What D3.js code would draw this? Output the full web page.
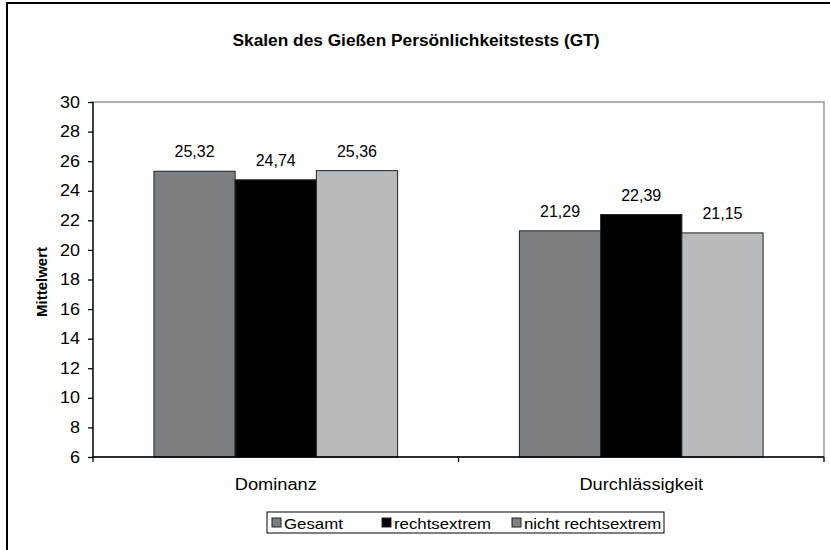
<!DOCTYPE html>
<html>
<head>
<meta charset="utf-8">
<script src="https://cdn.jsdelivr.net/npm/d3@7/dist/d3.min.js"></script>
<style>
  html, body { margin: 0; padding: 0; background: #fff; }
  svg { display: block; font-family: "Liberation Sans", Arial, sans-serif; }
</style>
</head>
<body>
<svg id="chart" width="830" height="550"></svg>
<script>
// Scales of the Gießen personality test, mean scores per group
const categories = ["Dominanz", "Durchlässigkeit"];
const seriesNames = ["Gesamt", "rechtsextrem", "nicht rechtsextrem"];
const gesamt = [25.32, 21.29];
const rechtsextrem = [24.74, 22.39];
const nichtRechtsextrem = [25.36, 21.15];
const yTicks = [6, 8, 10, 12, 14, 16, 18, 20, 22, 24, 26, 28, 30];

const seriesValues = [gesamt, rechtsextrem, nichtRechtsextrem];
const seriesColors = ["#7b7e81", "#000000", "#b7bbbe"];
const legendColors = ["#7b7e81", "#000000", "#808386"];

const svg = d3.select("#chart");

// widen text glyphs horizontally by a factor
function stretch(sel, f) {
  sel.each(function () {
    const w = this.getComputedTextLength();
    d3.select(this).attr("textLength", w * f).attr("lengthAdjust", "spacingAndGlyphs");
  });
}

// outer chart frame
svg.append("rect")
  .attr("x", 7).attr("y", 3).attr("width", 840).attr("height", 560)
  .attr("fill", "none").attr("stroke", "#000").attr("stroke-width", 2);

const plot = { left: 93, right: 824, top: 102, bottom: 457 };

const x0 = d3.scaleBand().domain(categories).range([plot.left, plot.right]);
const x1 = d3.scaleBand().domain(seriesNames)
  .range([0, x0.bandwidth()]).paddingOuter(0.75).paddingInner(0);
const y = d3.scaleLinear().domain([6, 30]).range([plot.bottom, plot.top]);

// plot area border
svg.append("rect")
  .attr("x", plot.left).attr("y", plot.top)
  .attr("width", plot.right - plot.left).attr("height", plot.bottom - plot.top)
  .attr("fill", "none").attr("stroke", "#9a9a9a").attr("stroke-width", 1.5);

// title
const title = svg.append("text")
  .attr("x", 416).attr("y", 46)
  .attr("text-anchor", "middle")
  .attr("font-size", 16).attr("font-weight", "bold")
  .text("Skalen des Gießen Persönlichkeitstests (GT)");
stretch(title, 1.08);

// bars
const rows = [];
categories.forEach((c, ci) => {
  seriesNames.forEach((s, si) => {
    rows.push({ cat: c, series: s, si, value: seriesValues[si][ci] });
  });
});

svg.append("g").selectAll("rect").data(rows).join("rect")
  .attr("x", d => x0(d.cat) + x1(d.series))
  .attr("y", d => y(d.value))
  .attr("width", x1.bandwidth())
  .attr("height", d => y(6) - y(d.value))
  .attr("fill", d => seriesColors[d.si])
  .attr("stroke", "#222").attr("stroke-width", 1);

// value labels
svg.append("g").selectAll("text").data(rows).join("text")
  .attr("x", d => x0(d.cat) + x1(d.series) + x1.bandwidth() / 2)
  .attr("y", d => y(d.value) - 14)
  .attr("text-anchor", "middle")
  .attr("font-size", 16)
  .text(d => d3.format(".2f")(d.value).replace(".", ","));

// y axis
const yAxis = svg.append("g")
  .attr("transform", `translate(${plot.left},0)`)
  .call(d3.axisLeft(y).tickValues(yTicks).tickSize(5).tickPadding(8).tickFormat(d3.format("d")));
yAxis.selectAll("text").attr("font-size", 16).attr("fill", "#000")
  .style("font-family", "Liberation Sans, Arial, sans-serif");
stretch(yAxis.selectAll("text"), 1.12);
yAxis.selectAll("line, path").attr("stroke", "#000").attr("stroke-width", 1.3);
yAxis.select(".domain").attr("d", `M0,${plot.bottom}V${plot.top}`);

// x axis
const xAxis = svg.append("g")
  .attr("transform", `translate(0,${plot.bottom})`)
  .call(d3.axisBottom(x0).tickSize(0).tickPadding(22));
xAxis.selectAll("text").attr("font-size", 16).attr("fill", "#000")
  .style("font-family", "Liberation Sans, Arial, sans-serif");
stretch(xAxis.selectAll("text"), 1.14);
xAxis.select(".domain").attr("d", `M${plot.left},0H${plot.right}`)
  .attr("stroke", "#000").attr("stroke-width", 1.5);
// category boundary ticks
xAxis.selectAll(".boundary")
  .data([plot.left, plot.left + x0.step(), plot.right])
  .join("line").attr("class", "boundary")
  .attr("x1", d => d).attr("x2", d => d)
  .attr("y1", 0).attr("y2", 5)
  .attr("stroke", "#000").attr("stroke-width", 1.3);

// y axis title
svg.append("text")
  .attr("transform", "translate(47,282) rotate(-90)")
  .attr("text-anchor", "middle")
  .attr("font-size", 15).attr("font-weight", "bold")
  .text("Mittelwert");

// legend
const legend = svg.append("g");
legend.append("rect")
  .attr("x", 267).attr("y", 512).attr("width", 397).attr("height", 21)
  .attr("fill", "#fff").attr("stroke", "#000").attr("stroke-width", 1);
const legendX = [272, 382, 512];
seriesNames.forEach((s, i) => {
  legend.append("rect")
    .attr("x", legendX[i]).attr("y", 518).attr("width", 9).attr("height", 9)
    .attr("fill", legendColors[i]).attr("stroke", "#222").attr("stroke-width", 1);
  const t = legend.append("text")
    .attr("x", legendX[i] + 12).attr("y", 528.5)
    .attr("font-size", 15)
    .text(s);
  stretch(t, 1.12);
});
</script>
</body>
</html>
